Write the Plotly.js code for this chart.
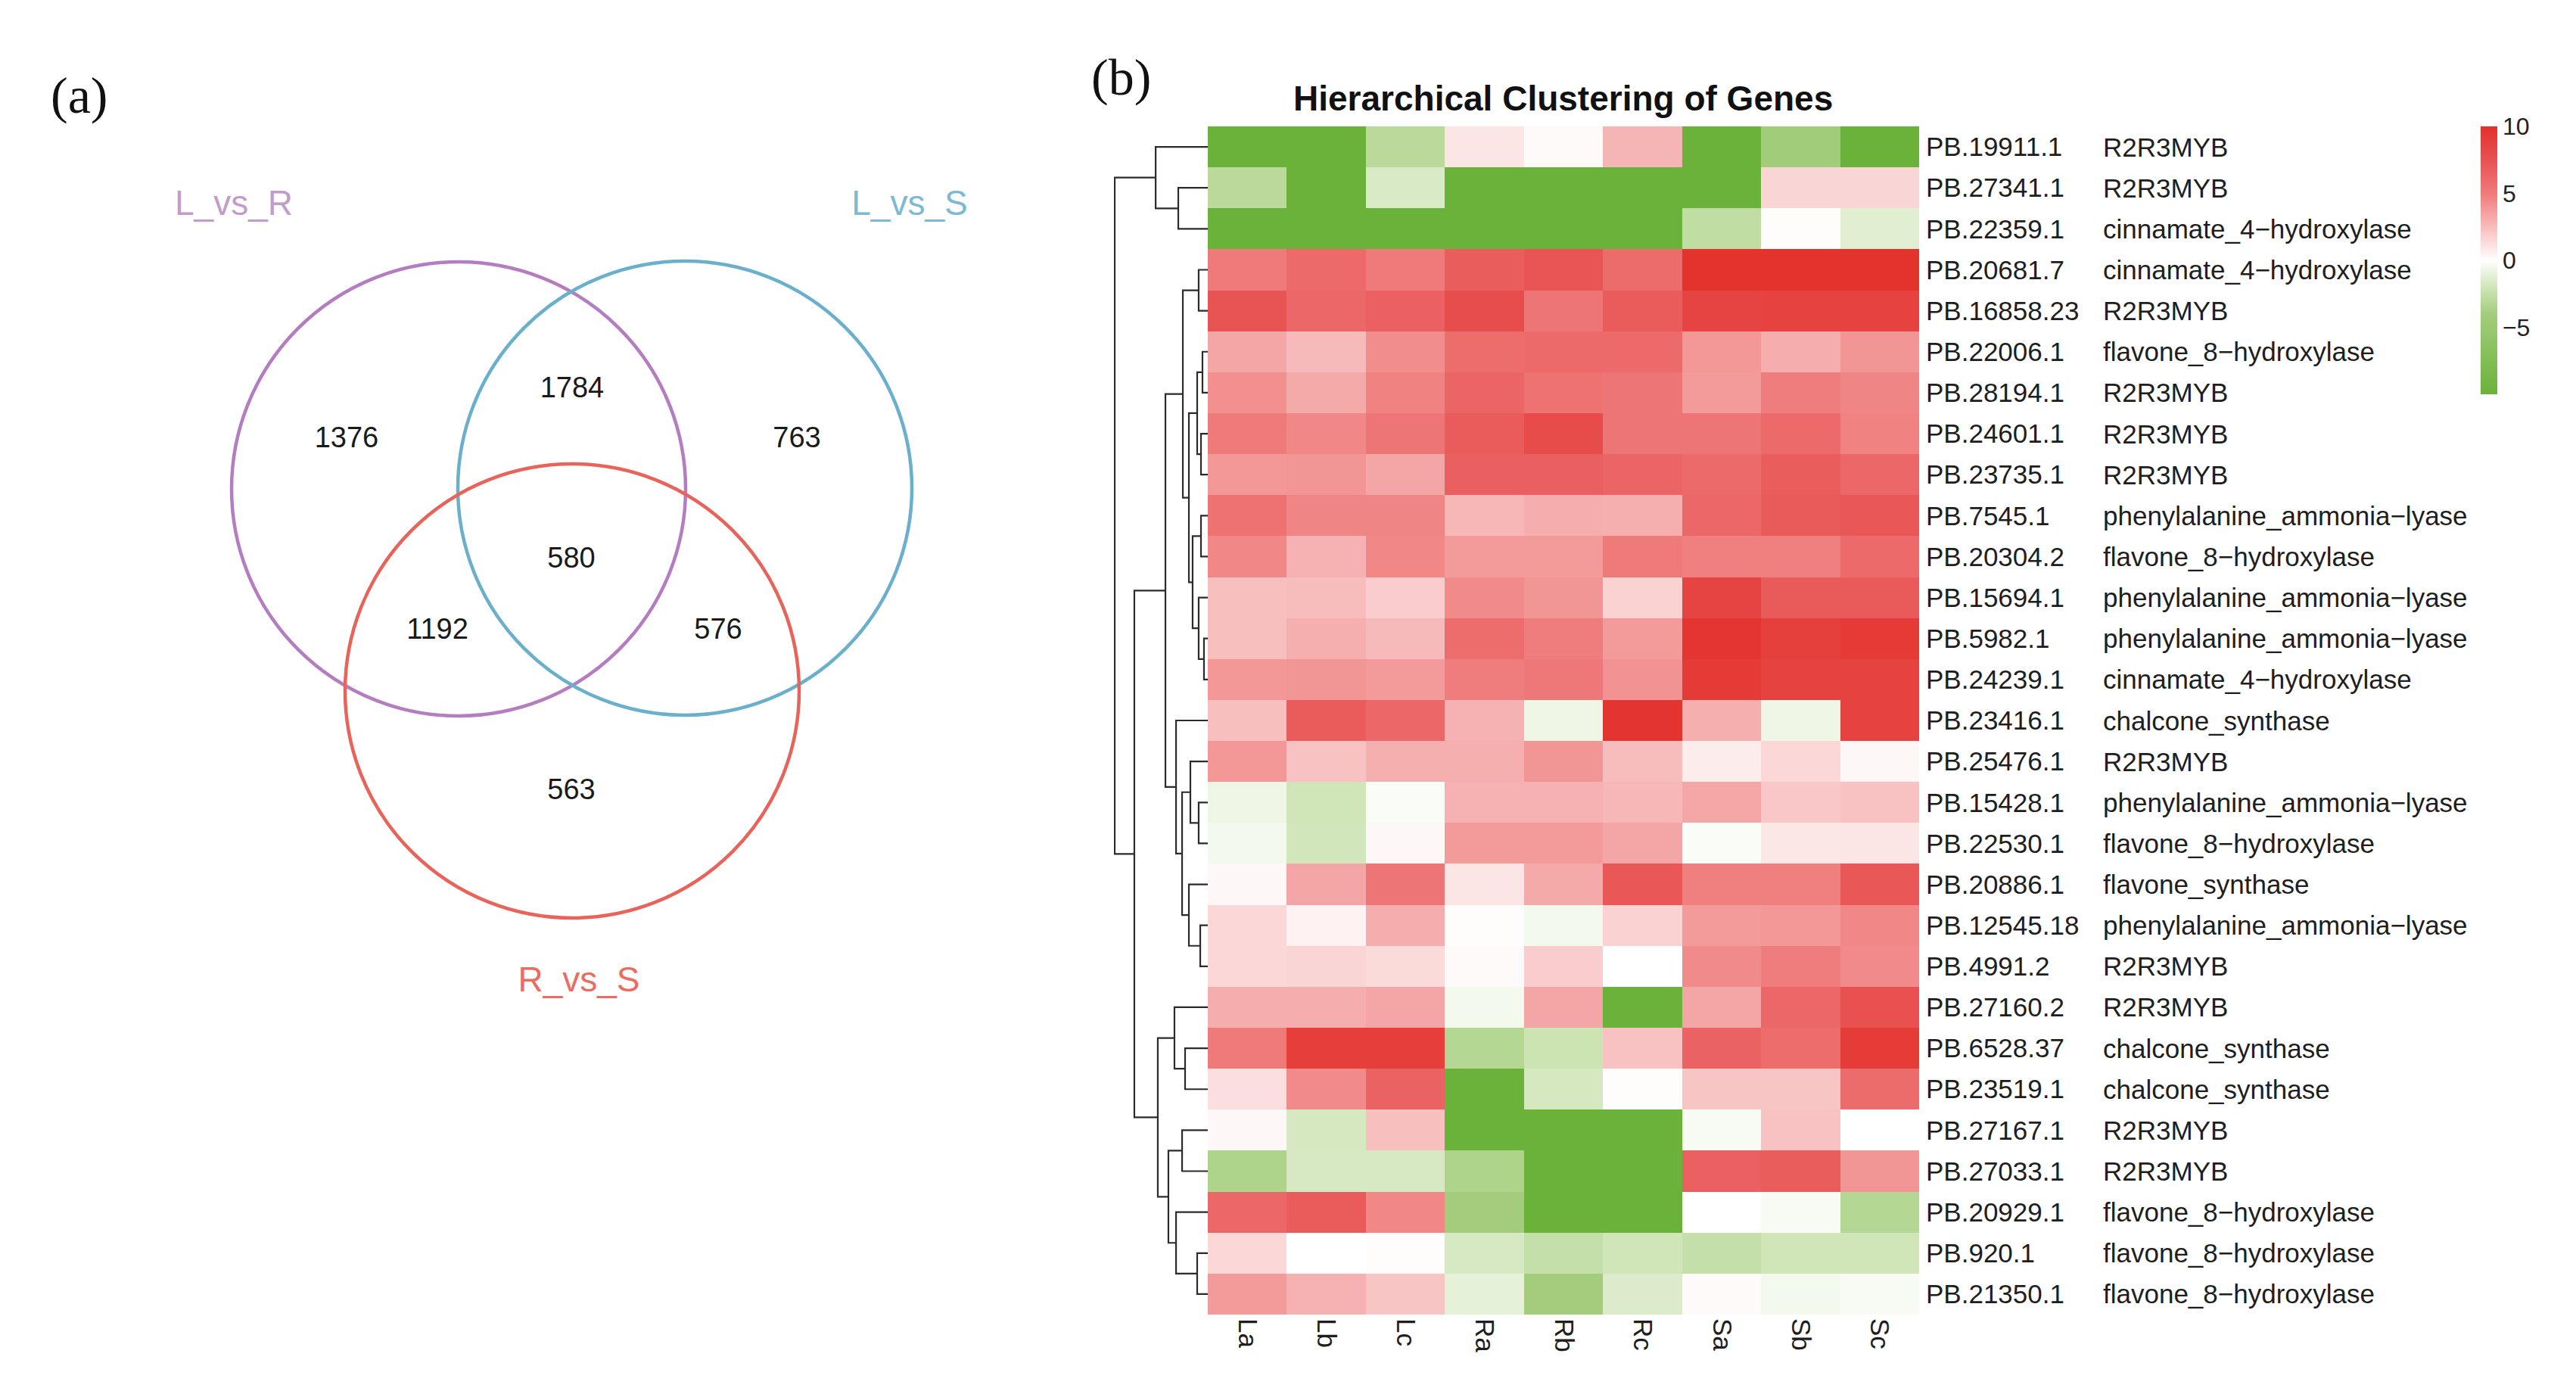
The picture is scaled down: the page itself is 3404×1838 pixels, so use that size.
<!DOCTYPE html>
<html>
<head>
<meta charset="utf-8">
<script src="https://cdn.plot.ly/plotly-3.0.1.min.js"></script>
<style>
  html, body { margin: 0; padding: 0; background: #ffffff; }
  #chart { width: 3404px; height: 1838px; }
</style>
</head>
<body>
<div id="chart"></div>
<script>
// ---------------- DATA ----------------
// (a) Venn diagram
const vennSets = ['L_vs_R', 'L_vs_S', 'R_vs_S'];
const vennRegions = ['onlyLR', 'onlyLS', 'onlyRS', 'LR_LS', 'LR_RS', 'LS_RS', 'all'];
const vennCounts = [1376, 763, 563, 1784, 1192, 576, 580];

// (b) heatmap
const samples = ['La', 'Lb', 'Lc', 'Ra', 'Rb', 'Rc', 'Sa', 'Sb', 'Sc'];
const geneIds = ['PB.19911.1', 'PB.27341.1', 'PB.22359.1', 'PB.20681.7', 'PB.16858.23', 'PB.22006.1',
  'PB.28194.1', 'PB.24601.1', 'PB.23735.1', 'PB.7545.1', 'PB.20304.2', 'PB.15694.1', 'PB.5982.1',
  'PB.24239.1', 'PB.23416.1', 'PB.25476.1', 'PB.15428.1', 'PB.22530.1', 'PB.20886.1', 'PB.12545.18',
  'PB.4991.2', 'PB.27160.2', 'PB.6528.37', 'PB.23519.1', 'PB.27167.1', 'PB.27033.1', 'PB.20929.1',
  'PB.920.1', 'PB.21350.1'];
const geneFunctions = ['R2R3MYB', 'R2R3MYB', 'cinnamate_4\u2212hydroxylase', 'cinnamate_4\u2212hydroxylase',
  'R2R3MYB', 'flavone_8\u2212hydroxylase', 'R2R3MYB', 'R2R3MYB', 'R2R3MYB',
  'phenylalanine_ammonia\u2212lyase', 'flavone_8\u2212hydroxylase', 'phenylalanine_ammonia\u2212lyase',
  'phenylalanine_ammonia\u2212lyase', 'cinnamate_4\u2212hydroxylase', 'chalcone_synthase', 'R2R3MYB',
  'phenylalanine_ammonia\u2212lyase', 'flavone_8\u2212hydroxylase', 'flavone_synthase',
  'phenylalanine_ammonia\u2212lyase', 'R2R3MYB', 'R2R3MYB', 'chalcone_synthase', 'chalcone_synthase',
  'R2R3MYB', 'R2R3MYB', 'flavone_8\u2212hydroxylase', 'flavone_8\u2212hydroxylase', 'flavone_8\u2212hydroxylase'];

// values per sample column (rows in geneIds order)
const La = [-10, -3, -10, 5, 7.4, 3.4, 4.2, 5, 3.9, 5.5, 4.5, 2.4, 2.4, 3.9, 2.4, 3.9, -0.7, -0.5, 0.3, 1.5, 1.5, 3.1, 5, 1.2, 0.3, -3.5, 6.2, 1.5, 3.8];
const Lb = [-10, -10, -10, 6, 6.2, 2.6, 3.2, 4.5, 4, 4.6, 2.9, 2.5, 3, 4, 6.9, 2.3, -2, -1.9, 3.4, 0.5, 1.6, 3.1, 9, 4.4, -1.8, -1.7, 6.9, 0, 2.9];
const Lc = [-3, -1.6, -10, 5, 6.6, 4.3, 4.7, 5.3, 3.4, 4.6, 4.5, 1.9, 2.6, 3.8, 6.1, 3, -0.2, 0.3, 5.3, 3.1, 1.4, 3.4, 9, 6.5, 2.4, -1.7, 4.5, 0.1, 2.2];
const Ra = [1, -10, -10, 6.8, 7.9, 5.8, 6.3, 6.9, 6.7, 2.7, 3.8, 4.4, 5.8, 4.9, 2.9, 3, 2.9, 3.8, 1, 0.1, 0.2, -0.5, -3.2, -10, -10, -3.5, -4, -1.7, -1.1];
const Rb = [0.2, -10, -10, 7.3, 5.3, 6, 5.5, 8, 6.7, 3.1, 3.8, 4, 4.9, 5.2, -0.7, 4, 2.9, 3.8, 3.2, -0.5, 1.9, 3.4, -2.2, -1.8, -10, -10, -10, -2.5, -4];
const Rc = [2.8, -10, -10, 5.9, 6.9, 6, 5.3, 5.3, 6.3, 3, 5, 1.7, 3.8, 4.1, 9.7, 2.5, 2.7, 3.4, 7.2, 1.7, 0, -10, 2.3, 0.1, -10, -10, -10, -2, -1.5];
const Sa = [-10, -10, -2.7, 9.8, 8.5, 3.9, 3.8, 5.3, 6, 6.1, 4.8, 8.5, 9.6, 9.2, 3, 0.7, 3.3, -0.2, 4.8, 3.8, 4.4, 3.4, 6.5, 2.2, -0.3, 6.6, 0, -2.5, 0.2];
const Sb = [-4.2, 1.6, 0.1, 9.8, 8.6, 3.1, 4.9, 6, 6.8, 7, 4.8, 7, 8.8, 8.6, -0.7, 1.5, 2.1, 0.9, 4.8, 3.9, 4.9, 6.2, 5.8, 2.2, 2.3, 6.8, -0.3, -2, -0.5];
const Sc = [-10, 1.6, -1.3, 9.8, 8.6, 4, 4.6, 4.7, 6.2, 7.2, 6, 7, 9.3, 8.6, 8.6, 0.3, 2.3, 1, 7.2, 4.5, 4.4, 7.6, 9.1, 5.9, 0, 4, -3.2, -2, -0.3];

// row dendrogram (hclust-style merges: negative = leaf row (1-based), positive = earlier merge; then height)
const mergeLeft   = [-13, -6, -8, -10, -20, -4, -12, -17, 2, -28, 4, -16, 9, -19, -23, 6, 12, -25, -2, -15, -27, -22, 18, 16, 22, -1, 24, 26];
const mergeRight  = [-14, -7, -9, -11, -21, -5, 1, -18, 3, -29, 7, 8, 11, 5, -24, 13, 14, -26, -3, 17, 10, 15, 21, 20, 23, 19, 25, 27];
const mergeHeight = [4.1, 5.7, 7.3, 7.3, 8.1, 9.8, 9.8, 9.8, 11.4, 11.4, 16.3, 18.7, 20.3, 20.3, 24.4, 26.8, 27.6, 27.6, 31.7, 34.1, 34.1, 35.8, 42.3, 45.5, 53.7, 56, 78.9, 100];

const colorTicks = [-5, 0, 5, 10];

// ---------------- LAYOUT CONSTANTS ----------------
const W = 3404, H = 1838;
const FONT = 'Liberation Sans, Arial, Helvetica, sans-serif';
const SERIF = 'Liberation Serif, Times New Roman, serif';
const px = v => v / W;
const py = v => 1 - v / H;

// Venn geometry (in pixel units of its own axis)
const vennR = 300;
const vennCenters = [[606, 646], [905, 645], [756, 913]];
const vennLineColors = ['#B57DC1', '#6AAFCB', '#E8635A'];
const vennLabelColors = ['#C29CCB', '#7DB9D3', '#EA6D61'];
const vennLabelPos = [[309, 272], [1202, 272], [765, 1298]];
const vennRegionPos = [[458, 581], [1053, 581], [755, 1046], [756, 515], [578, 834], [949, 834], [755, 740]];

// heatmap geometry
const hmLeft = 1596, hmRight = 2536, hmTop = 167, hmBottom = 1737;
const dendLeft = 1472;

// ---------------- BUILD ----------------
const cols = [La, Lb, Lc, Ra, Rb, Rc, Sa, Sb, Sc];
const rowIdx = geneIds.map((_, i) => i);
const z = rowIdx.map(i => cols.map(c => c[i]));

// dendrogram segments
const dx = [], dy = [];
const nodes = [];
mergeLeft.forEach((a, k) => {
  const b = mergeRight[k], h = mergeHeight[k];
  const A = a < 0 ? { y: -a - 1, h: 0 } : nodes[a - 1];
  const B = b < 0 ? { y: -b - 1, h: 0 } : nodes[b - 1];
  dx.push(A.h, h, h, B.h, null);
  dy.push(A.y, A.y, B.y, B.y, null);
  nodes.push({ y: (A.y + B.y) / 2, h: h });
});
const maxH = Math.max(...mergeHeight);
const dendRangeMax = maxH * (hmLeft - dendLeft) / (hmLeft - 1473);

const traces = [];

// Venn numbers
traces.push({
  type: 'scatter', mode: 'text', xaxis: 'x', yaxis: 'y',
  x: vennRegionPos.map(p => p[0]), y: vennRegionPos.map(p => p[1]),
  text: vennCounts.map(String),
  textfont: { family: FONT, size: 38, color: '#1a1a1a' },
  hoverinfo: 'skip', showlegend: false
});
// Venn set labels
traces.push({
  type: 'scatter', mode: 'text', xaxis: 'x', yaxis: 'y',
  x: vennLabelPos.map(p => p[0]), y: vennLabelPos.map(p => p[1]),
  text: vennSets,
  textfont: { family: FONT, size: 46, color: vennLabelColors },
  hoverinfo: 'skip', showlegend: false
});

// Heatmap
traces.push({
  type: 'heatmap', xaxis: 'x2', yaxis: 'y2',
  x: samples, y: rowIdx, z: z,
  zmin: -10, zmax: 10, zsmooth: false,
  colorscale: [
    [0, '#6AB23A'], [0.3, '#A3CD7C'], [0.4, '#D0E5B8'], [0.5, '#FFFFFF'],
    [0.6, '#F9CACA'], [0.75, '#EF7A7A'], [0.875, '#E85252'], [1, '#E4302A']
  ],
  colorbar: {
    x: px(3278), xanchor: 'left', y: py(hmTop), yanchor: 'top',
    len: 354, lenmode: 'pixels', thickness: 22, thicknessmode: 'pixels',
    xpad: 0, ypad: 0, outlinewidth: 0, ticks: '',
    tickvals: colorTicks, ticktext: colorTicks.map(v => v < 0 ? '\u2212' + Math.abs(v) : String(v)),
    tickfont: { family: FONT, size: 32, color: '#222' }
  },
  hoverinfo: 'skip'
});

// Dendrogram
traces.push({
  type: 'scatter', mode: 'lines', xaxis: 'x3', yaxis: 'y2',
  x: dx, y: dy, line: { color: '#2b2b2b', width: 2.2 },
  hoverinfo: 'skip', showlegend: false, connectgaps: false
});

const shapes = vennCenters.map((c, i) => ({
  type: 'circle', xref: 'x', yref: 'y',
  x0: c[0] - vennR, x1: c[0] + vennR, y0: c[1] - vennR, y1: c[1] + vennR,
  line: { color: vennLineColors[i], width: 4.5 }, fillcolor: 'rgba(0,0,0,0)'
}));

const annotations = [];
geneFunctions.forEach((f, i) => {
  annotations.push({
    xref: 'paper', yref: 'y2', x: px(2777), y: i, xanchor: 'left', yanchor: 'middle',
    text: f, showarrow: false, font: { family: FONT, size: 35, color: '#1e1e1e' }
  });
});
annotations.push({
  xref: 'paper', yref: 'paper', x: px(2065), y: py(130), xanchor: 'center', yanchor: 'middle',
  text: '<b>Hierarchical Clustering of Genes</b>', showarrow: false,
  font: { family: FONT, size: 46, color: '#111' }
});
annotations.push({
  xref: 'paper', yref: 'paper', x: px(104), y: py(126), xanchor: 'center', yanchor: 'middle',
  text: '(a)', showarrow: false, font: { family: SERIF, size: 68, color: '#111' }
});
annotations.push({
  xref: 'paper', yref: 'paper', x: px(1481), y: py(102), xanchor: 'center', yanchor: 'middle',
  text: '(b)', showarrow: false, font: { family: SERIF, size: 68, color: '#111' }
});

const layout = {
  width: W, height: H,
  margin: { l: 0, r: 0, t: 0, b: 0, pad: 0 },
  paper_bgcolor: '#ffffff', plot_bgcolor: 'rgba(0,0,0,0)',
  showlegend: false,
  font: { family: FONT },
  xaxis: { domain: [0, px(1300)], range: [0, 1300], visible: false, fixedrange: true, anchor: 'y' },
  yaxis: { domain: [0, 1], range: [H, 0], visible: false, fixedrange: true, anchor: 'x' },
  xaxis2: {
    domain: [px(hmLeft), px(hmRight)], anchor: 'y2', type: 'category',
    tickangle: 90, ticks: '', showgrid: false, zeroline: false, showline: false,
    ticklabelstandoff: 4,
    tickfont: { family: FONT, size: 35, color: '#1e1e1e' }, automargin: false
  },
  yaxis2: {
    domain: [py(hmBottom), py(hmTop)], anchor: 'x2', side: 'right',
    range: [geneIds.length - 0.5, -0.5], tickvals: rowIdx, ticktext: geneIds,
    ticks: '', showgrid: false, zeroline: false, showline: false,
    ticklabelstandoff: 8,
    tickfont: { family: FONT, size: 35, color: '#1e1e1e' }, automargin: false
  },
  xaxis3: {
    domain: [px(dendLeft), px(hmLeft)], anchor: 'y2', range: [dendRangeMax, 0],
    visible: false, fixedrange: true
  },
  shapes: shapes,
  annotations: annotations
};

Plotly.newPlot('chart', traces, layout, { staticPlot: true, displayModeBar: false });
</script>
</body>
</html>
